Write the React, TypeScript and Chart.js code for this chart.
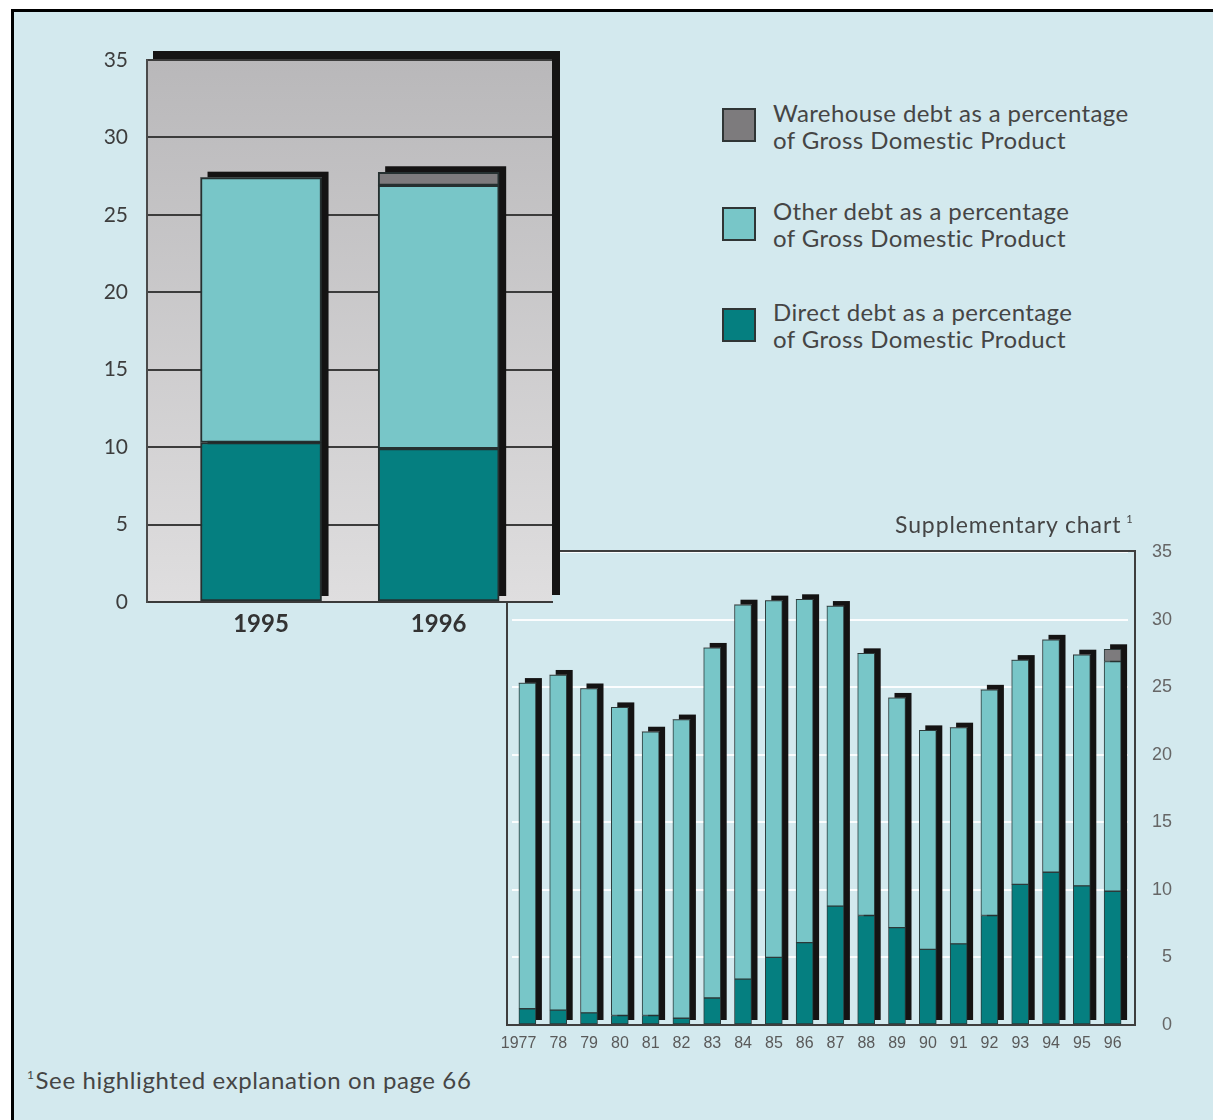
import React, { useEffect, useRef } from "react";
import { Chart, registerables } from "chart.js";

Chart.register(...registerables);

// ---- Main chart: 1995 and 1996 ----
const mainYears = ["1995", "1996"];
const mainDirect = [10.3, 9.9];
const mainOther = [17.1, 17.0];
const mainWarehouse = [0, 0.85];

// ---- Supplementary chart: 1977 to 1996 ----
const suppYears = [
  "1977", "78", "79", "80", "81", "82", "83", "84", "85", "86",
  "87", "88", "89", "90", "91", "92", "93", "94", "95", "96",
];
const suppDirect = [
  1.2, 1.1, 0.9, 0.7, 0.7, 0.5, 2.0, 3.4, 5.0, 6.1,
  8.8, 8.1, 7.2, 5.6, 6.0, 8.1, 10.4, 11.3, 10.3, 9.9,
];
const suppOther = [
  24.1, 24.8, 24.0, 22.8, 21.0, 22.1, 25.9, 27.7, 26.4, 25.4,
  22.2, 19.4, 17.0, 16.2, 16.0, 16.7, 16.6, 17.2, 17.1, 17.0,
];
const suppWarehouse = [
  0, 0, 0, 0, 0, 0, 0, 0, 0, 0,
  0, 0, 0, 0, 0, 0, 0, 0, 0, 0.9,
];

const yMax = 35;
const yStep = 5;

// Legend entries, top to bottom
const legendNames = [
  ["Warehouse debt as a percentage", "of Gross Domestic Product"],
  ["Other debt as a percentage", "of Gross Domestic Product"],
  ["Direct debt as a percentage", "of Gross Domestic Product"],
];

const DIRECT = "#057f80";
const OTHER = "#78c6c8";
const WAREHOUSE = "#7d7b7d";
const legendColors = [WAREHOUSE, OTHER, DIRECT];

const FONT = "Lato, 'Open Sans', sans-serif";
const PAGE_BG = "#d3e9ee";

// Black drop shadow behind each stacked column, offset up and to the right
const barShadow = {
  id: "barShadow",
  beforeDatasetsDraw(chart: any, _args: any, opts: any) {
    const ctx = chart.ctx;
    const n = chart.data.datasets[0].data.length;
    ctx.save();
    ctx.fillStyle = opts.color || "#111";
    for (let i = 0; i < n; i++) {
      let best: any = null;
      chart.data.datasets.forEach((_ds: any, d: number) => {
        const el = chart.getDatasetMeta(d).data[i];
        if (!el) return;
        const p = el.getProps(["x", "y", "base", "width"], true);
        if (Math.abs(p.base - p.y) < 0.5) return;
        if (!best || p.y < best.y) best = p;
      });
      if (!best) continue;
      const base = chart.scales.y.getPixelForValue(0);
      ctx.fillRect(
        best.x - best.width / 2 + opts.dx,
        best.y + opts.dy,
        best.width,
        base - best.y
      );
    }
    ctx.restore();
  },
};

// Grey graded back wall with a dark offset edge for the main plot
const plotBackdrop = {
  id: "plotBackdrop",
  beforeDraw(chart: any) {
    const { ctx, chartArea: a } = chart;
    const w = a.right - a.left;
    const h = a.bottom - a.top;
    ctx.save();
    ctx.fillStyle = "#151414";
    ctx.fillRect(a.left + 6, a.top - 9, w + 2, h + 2);
    const g = ctx.createLinearGradient(0, a.top, 0, a.bottom);
    g.addColorStop(0, "#b9b8ba");
    g.addColorStop(1, "#dfdedf");
    ctx.fillStyle = g;
    ctx.fillRect(a.left, a.top, w, h);
    ctx.restore();
  },
};

// Outline box of the supplementary plot
const plotBox = {
  id: "plotBox",
  afterDraw(chart: any) {
    const { ctx, chartArea: a } = chart;
    ctx.save();
    ctx.strokeStyle = "#3e3e3e";
    ctx.lineWidth = 2;
    ctx.strokeRect(a.left - 5, a.top - 1, a.right - a.left + 12, a.bottom - a.top + 1);
    ctx.restore();
  },
};

const zeroSafeBorder = (w: number) => (c: any) =>
  c.raw && (typeof c.raw === "number" ? c.raw : c.raw.y) > 0 ? w : 0;

function MainChart() {
  const ref = useRef<HTMLCanvasElement>(null);
  useEffect(() => {
    const series = [mainDirect, mainOther, mainWarehouse];
    const colors = [DIRECT, OTHER, WAREHOUSE];
    const names = [legendNames[2], legendNames[1], legendNames[0]];
    const chart = new Chart(ref.current as HTMLCanvasElement, {
      type: "bar",
      data: {
        datasets: series.map((vals, k) => ({
          label: names[k].join(" "),
          data: vals.map((v, i) => ({ x: i, y: v })),
          backgroundColor: colors[k],
          borderColor: "#253030",
          borderWidth: zeroSafeBorder(2) as any,
          borderSkipped: false,
          barThickness: 121,
        })),
      },
      options: {
        animation: false,
        responsive: false,
        events: [],
        layout: { padding: { top: 60, right: 48, left: 0, bottom: 0 } },
        plugins: {
          legend: { display: false },
          tooltip: { enabled: false },
          barShadow: { dx: 7, dy: -6, color: "#141313" },
        } as any,
        scales: {
          x: {
            type: "linear",
            stacked: true,
            offset: false,
            bounds: "data",
            min: -0.642,
            max: 1.638,
            grid: { display: false, drawTicks: false, offset: false },
            border: { display: true, color: "#3a3a3a", width: 2 },
            afterBuildTicks: (ax: any) => {
              ax.ticks = mainYears.map((_, i) => ({ value: i }));
            },
            afterFit: (s: any) => {
              s.height = 58;
            },
            ticks: {
              callback: (v: any) => mainYears[v] ?? "",
              font: { family: FONT, size: 24, weight: "bold" },
              color: "#333",
              padding: 8,
              maxRotation: 0,
              autoSkip: false,
            },
          },
          y: {
            stacked: true,
            min: 0,
            max: yMax,
            grid: { color: "#3c3c3c", lineWidth: 2, drawTicks: false },
            border: { display: true, color: "#4a4a4a", width: 2 },
            afterFit: (s: any) => {
              s.width = 147;
            },
            ticks: {
              stepSize: yStep,
              font: { family: FONT, size: 21 },
              color: "#3d3d3d",
              padding: 19,
            },
          },
        },
      },
      plugins: [plotBackdrop, barShadow],
    } as any);
    return () => chart.destroy();
  }, []);
  return (
    <canvas
      ref={ref}
      width={600}
      height={660}
      style={{ position: "absolute", left: 0, top: 0, width: 600, height: 660 }}
    />
  );
}

function SupplementaryChart() {
  const ref = useRef<HTMLCanvasElement>(null);
  useEffect(() => {
    const series = [suppDirect, suppOther, suppWarehouse];
    const colors = [DIRECT, OTHER, WAREHOUSE];
    const names = [legendNames[2], legendNames[1], legendNames[0]];
    const chart = new Chart(ref.current as HTMLCanvasElement, {
      type: "bar",
      data: {
        labels: suppYears,
        datasets: series.map((vals, k) => ({
          label: names[k].join(" "),
          data: vals,
          backgroundColor: colors[k],
          borderColor: "#2c3a3a",
          borderWidth: zeroSafeBorder(1) as any,
          borderSkipped: false,
          barThickness: 17,
        })),
      },
      options: {
        animation: false,
        responsive: false,
        events: [],
        layout: { padding: { top: 52, right: 41, left: 32, bottom: 0 } },
        plugins: {
          legend: { display: false },
          tooltip: { enabled: false },
          barShadow: { dx: 6, dy: -5, color: "#141313" },
        } as any,
        scales: {
          x: {
            stacked: true,
            grid: { display: false, drawTicks: false },
            border: { display: false },
            afterFit: (s: any) => {
              s.height = 45;
            },
            ticks: {
              font: { family: "'Liberation Sans', sans-serif", size: 16 },
              color: "#5a5a5a",
              align: "end",
              labelOffset: 9,
              padding: 9,
              maxRotation: 0,
              autoSkip: false,
            },
          },
          y: {
            stacked: true,
            position: "right",
            min: 0,
            max: yMax,
            grid: { color: "rgba(255,255,255,0.9)", lineWidth: 2, drawTicks: false },
            border: { display: false },
            afterFit: (s: any) => {
              s.width = 44;
            },
            ticks: {
              stepSize: yStep,
              crossAlign: "far",
              font: { family: "'Liberation Sans', sans-serif", size: 18 },
              color: "#666",
            },
          },
        },
      },
      plugins: [barShadow, plotBox],
    } as any);
    return () => chart.destroy();
  }, []);
  return (
    <canvas
      ref={ref}
      width={733}
      height={570}
      style={{ position: "absolute", left: 480, top: 500, width: 733, height: 570 }}
    />
  );
}

function Legend() {
  const tops = [99, 197, 298];
  const boxTops = [108, 207, 308];
  return (
    <>
      {legendNames.map((lines, k) => (
        <React.Fragment key={k}>
          <div
            style={{
              position: "absolute",
              left: 722,
              top: boxTops[k],
              width: 30,
              height: 30,
              background: legendColors[k],
              border: "2px solid #2f3535",
            }}
          />
          <div
            style={{
              position: "absolute",
              left: 773,
              top: tops[k],
              font: `24px/27px ${FONT}`,
              letterSpacing: "0.4px",
              color: "#454545",
              whiteSpace: "nowrap",
            }}
          >
            {lines[0]}
            <br />
            {lines[1]}
          </div>
        </React.Fragment>
      ))}
    </>
  );
}

export default function App() {
  return (
    <div
      style={{
        position: "absolute",
        left: 0,
        top: 0,
        width: 1213,
        height: 1120,
        background: "#fff",
        overflow: "hidden",
      }}
    >
      <div
        style={{
          position: "absolute",
          left: 11,
          top: 9,
          right: 0,
          bottom: 0,
          background: PAGE_BG,
          borderTop: "3px solid #000",
          borderLeft: "3px solid #000",
        }}
      />
      <SupplementaryChart />
      <MainChart />
      <Legend />
      <div
        style={{
          position: "absolute",
          left: 895,
          top: 505,
          font: `23px/28px ${FONT}`,
          letterSpacing: "0.9px",
          color: "#454545",
          whiteSpace: "nowrap",
        }}
      >
        Supplementary chart
        <span style={{ fontSize: 11, verticalAlign: 10, marginLeft: 5 }}>1</span>
      </div>
      <div
        style={{
          position: "absolute",
          left: 27,
          top: 1060,
          font: `24px/30px ${FONT}`,
          letterSpacing: "0.6px",
          color: "#454545",
          whiteSpace: "nowrap",
        }}
      >
        <span style={{ fontSize: 12, verticalAlign: 10, marginRight: 1 }}>1</span>
        See highlighted explanation on page 66
      </div>
    </div>
  );
}
